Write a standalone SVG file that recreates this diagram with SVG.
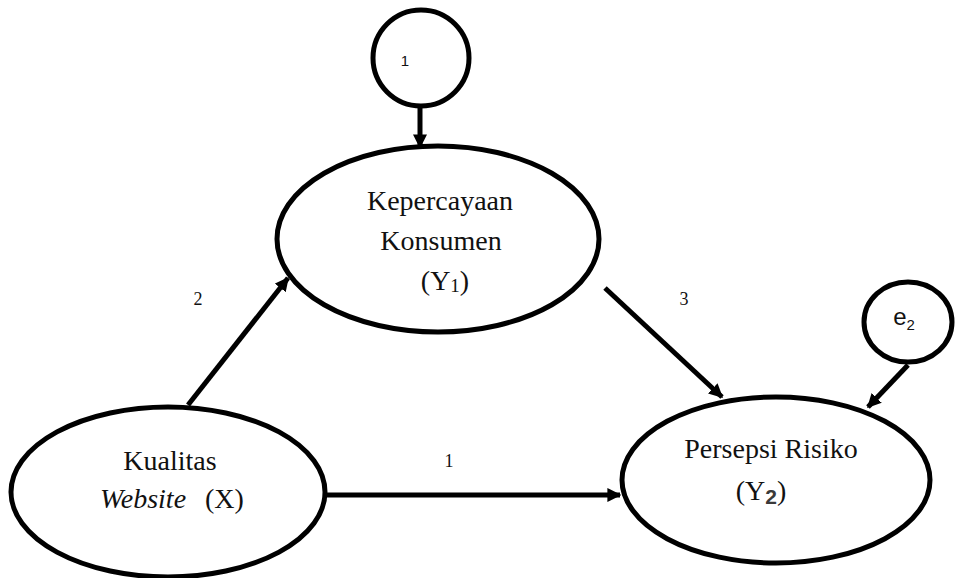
<svg xmlns="http://www.w3.org/2000/svg" width="955" height="578" viewBox="0 0 955 578">
  <style>
    .shape { fill: #ffffff; stroke: #000000; stroke-width: 5; }
    .edge { stroke: #000000; stroke-width: 5; fill: none; marker-end: url(#head); }
    .lbl { font-family: "Liberation Serif", "Times New Roman", serif; font-size: 28px; fill: #111111; text-anchor: middle; }
    .lbl-start { text-anchor: start; }
    .num { font-family: "Liberation Serif", "Times New Roman", serif; font-size: 18px; fill: #111111; text-anchor: middle; }
    .err { font-family: "Liberation Sans", Arial, sans-serif; fill: #111111; text-anchor: middle; }
  </style>
  <defs>
    <marker id="head" viewBox="0 0 10 10" refX="9" refY="5" markerWidth="14" markerHeight="15" markerUnits="userSpaceOnUse" orient="auto">
      <path d="M0,0 L10,5 L0,10 z" fill="#000000"/>
    </marker>
  </defs>

  <g id="connectors">
    <line class="edge" x1="420" y1="106" x2="420" y2="147"/>
    <line class="edge" x1="188" y1="405" x2="288" y2="278"/>
    <line class="edge" x1="605" y1="288" x2="722" y2="397"/>
    <line class="edge" x1="326" y1="495" x2="620" y2="495"/>
    <line class="edge" x1="908" y1="365" x2="868" y2="407"/>
  </g>

  <g id="labels">
    <text class="num" x="198" y="305">2</text>
    <text class="num" x="684" y="305">3</text>
    <text class="num" x="449" y="467">1</text>
  </g>

  <g id="e1">
    <circle class="shape" cx="421" cy="58" r="48"/>
    <text class="err" x="405" y="66" font-size="15">1</text>
  </g>

  <g id="e2">
    <ellipse class="shape" cx="908" cy="322" rx="44" ry="40"/>
    <text class="err" x="904" y="325" font-size="24">e<tspan font-size="15" dy="5">2</tspan></text>
  </g>

  <g id="kepercayaan">
    <ellipse class="shape" cx="438" cy="239" rx="161" ry="93"/>
    <text class="lbl" x="440" y="210">Kepercayaan</text>
    <text class="lbl" x="441" y="250">Konsumen</text>
    <text class="lbl" x="445" y="290">(Y<tspan font-size="19" dy="2">1</tspan><tspan dy="-2">)</tspan></text>
  </g>

  <g id="kualitas">
    <ellipse class="shape" cx="168" cy="492" rx="157" ry="85"/>
    <text class="lbl" x="170" y="470">Kualitas</text>
    <text class="lbl lbl-start" x="100" y="508"><tspan font-style="italic">Website</tspan><tspan x="205">(X)</tspan></text>
  </g>

  <g id="persepsi">
    <ellipse class="shape" cx="776" cy="480" rx="154" ry="83"/>
    <text class="lbl" x="771" y="458">Persepsi Risiko</text>
    <text class="lbl" x="761" y="500">(Y<tspan font-family="Liberation Sans, Arial, sans-serif" font-weight="bold" font-size="21" fill="#3a3a3a" dy="4">2</tspan><tspan dy="-4">)</tspan></text>
  </g>
</svg>
